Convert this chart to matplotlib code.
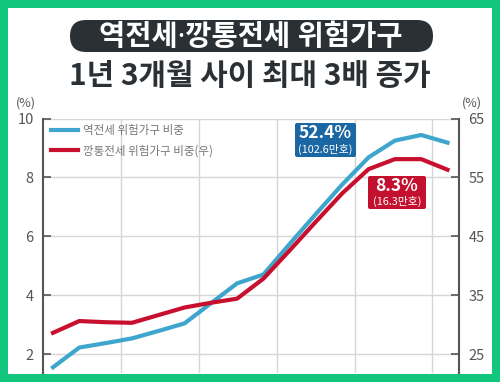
import matplotlib
matplotlib.use("Agg")
import matplotlib.pyplot as plt
from matplotlib.patches import Rectangle, FancyBboxPatch
from matplotlib.transforms import IdentityTransform

plt.rcParams['font.family'] = ['Noto Sans CJK KR', 'DejaVu Sans']

# monthly points, 15 months span
months = ['22.01', '22.02', '22.03', '22.04', '22.05', '22.06', '22.07', '22.08',
          '22.09', '22.10', '22.11', '22.12', '23.01', '23.02', '23.03', '23.04']
reverse_share = [1.55, 2.22, 2.37, 2.53, 2.78, 3.04, 3.72, 4.40,
                 4.70, 5.74, 6.76, 7.76, 8.68, 9.25, 9.44, 9.18]
empty_share = [28.6, 30.6, 30.4, 30.3, 31.6, 32.9, 33.7, 34.4,
               37.8, 42.6, 47.5, 52.3, 56.4, 58.1, 58.1, 56.3]
left_ticks = [2, 4, 6, 8, 10]
right_ticks = [25, 35, 45, 55, 65]
grid_x = [2.57, 5.55, 8.50, 11.48, 14.41]

BLUE = '#3ea5cc'
RED = '#c8102e'
GREEN = '#13c67d'
DARK = '#2a3034'
GREY = '#555555'

W, H = 500, 382
fig = plt.figure(figsize=(W / 100, H / 100), dpi=100)
fig.patch.set_facecolor(GREEN)

def px(x0, y0, w, h):
    # pixel box (top-left origin) -> display coords
    return (x0, H - y0 - h), w, h

xy, w, h = px(8, 8, 484, 366)
fig.patches.append(Rectangle(xy, w, h, transform=IdentityTransform(),
                             facecolor='white', edgecolor='none', zorder=-1))

# title pill
xy, w, h = px(70, 20, 363, 32)
fig.patches.append(FancyBboxPatch(xy, w, h, boxstyle='round,pad=0,rounding_size=16',
                                  transform=IdentityTransform(), facecolor=DARK,
                                  edgecolor='none', zorder=1))
fig.text(251 / W, 1 - 37 / H, '역전세·깡통전세 위험가구', color='white', fontsize=20.5,
         fontweight='bold', ha='center', va='center',
         family=['Noto Sans', 'Noto Sans CJK KR'])
fig.text(250 / W, 1 - 76 / H, '1년 3개월 사이 최대 3배 증가', color=DARK, fontsize=21.5,
         fontweight='bold', ha='center', va='center')

# axes
left, right, top, bottom = 42.7, 459.3, 118.5, 373
ax = fig.add_axes([left / W, 1 - bottom / H, (right - left) / W, (bottom - top) / H])
ax.set_facecolor('none')
ax2 = ax.twinx()

ax.plot(range(len(months)), reverse_share, color=BLUE, lw=3, label='역전세 위험가구 비중',
        solid_joinstyle='round')
ax2.plot(range(len(months)), empty_share, color=RED, lw=3, solid_joinstyle='round')
ax.plot([], [], color=RED, lw=3, label='깡통전세 위험가구 비중(우)')

ax.set_xlim(-0.392, 15.449)
ax.set_ylim(1.355, 10)
ax2.set_ylim(5 * 1.355 + 15, 65)

ax.set_yticks(left_ticks)
ax2.set_yticks(right_ticks)
ax.set_xticks(grid_x)
ax.tick_params(axis='x', length=0, labelbottom=False)
ax.grid(True, color='#d6d6d6', lw=1)
ax.set_axisbelow(True)

for a in (ax, ax2):
    for s in ('top', 'bottom'):
        a.spines[s].set_visible(False)
    a.tick_params(axis='y', direction='in', length=6, width=1.2, color=GREY,
                  labelcolor=GREY, labelsize=10.5, pad=6.5)
ax.spines['right'].set_visible(False)
ax2.spines['left'].set_visible(False)
ax.spines['left'].set_color(GREY)
ax.spines['left'].set_linewidth(1.5)
ax2.spines['right'].set_color(GREY)
ax2.spines['right'].set_linewidth(1.5)

fig.text(26 / W, 1 - 103 / H, '(%)', color=GREY, fontsize=9, ha='center', va='center')
fig.text(472 / W, 1 - 103 / H, '(%)', color=GREY, fontsize=9, ha='center', va='center')

leg = ax.legend(loc='upper left', bbox_to_anchor=(0.02, 0.978), frameon=False,
                fontsize=8.3, handlelength=2.3, handletextpad=0.45, labelspacing=0.62,
                borderaxespad=0, borderpad=0)
for t in leg.get_texts():
    t.set_color('#777777')

# value callouts
def callout(x0, y0, w, h, color, big, small):
    xy, ww, hh = px(x0, y0, w, h)
    fig.patches.append(FancyBboxPatch(xy, ww, hh, boxstyle='round,pad=0,rounding_size=2',
                                      transform=IdentityTransform(), facecolor=color,
                                      edgecolor='none', zorder=5))
    cx = (x0 + w / 2) / W
    fig.text(cx, 1 - (y0 + h * 0.3) / H, big, color='white', fontsize=12.5,
             fontweight='bold', ha='center', va='center', zorder=6)
    fig.text(cx, 1 - (y0 + h * 0.77) / H, small, color='white', fontsize=7.8,
             ha='center', va='center', zorder=6)

callout(295, 123, 61, 34, '#1b67a3', '52.4%', '(102.6만호)')
callout(368, 176, 58, 33, '#c4102f', '8.3%', '(16.3만호)')

fig.savefig('out.png', dpi=100, facecolor=fig.get_facecolor())
